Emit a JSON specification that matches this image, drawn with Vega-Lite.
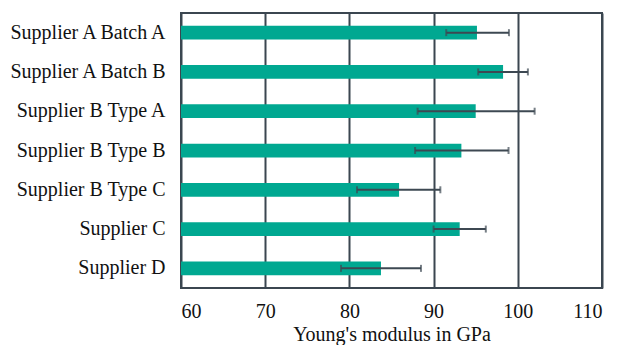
{
  "$schema": "https://vega.github.io/schema/vega-lite/v6.json",
  "width": 421,
  "height": 275,
  "autosize": {"type": "none"},
  "padding": {"left": 181, "top": 13, "right": 16, "bottom": 57},
  "background": "white",
  "config": {
    "font": "Liberation Serif",
    "view": {"stroke": "#3b4650", "strokeWidth": 2},
    "axis": {"labelFont": "Liberation Serif", "titleFont": "Liberation Serif", "labelColor": "#111", "titleColor": "#111"}
  },
  "data": {
    "values": [
      {"supplier": "Supplier A Batch A", "mean": 95.15, "low": 91.5, "high": 98.95},
      {"supplier": "Supplier A Batch B", "mean": 98.25, "low": 95.3, "high": 101.2},
      {"supplier": "Supplier B Type A", "mean": 95.0, "low": 88.1, "high": 102.0},
      {"supplier": "Supplier B Type B", "mean": 93.3, "low": 87.8, "high": 98.9},
      {"supplier": "Supplier B Type C", "mean": 85.9, "low": 80.9, "high": 90.8},
      {"supplier": "Supplier C", "mean": 93.1, "low": 90.0, "high": 96.2},
      {"supplier": "Supplier D", "mean": 83.75, "low": 79.0, "high": 88.5}
    ]
  },
  "encoding": {
    "y": {
      "field": "supplier", "type": "nominal", "sort": null,
      "scale": {"paddingInner": 0.65, "paddingOuter": 0.325},
      "axis": {"title": null, "ticks": false, "domain": false, "labelFontSize": 20, "labelPadding": 16, "grid": false}
    }
  },
  "layer": [
    {
      "mark": {"type": "bar", "color": "#00a891"},
      "encoding": {
        "x": {
          "field": "mean", "type": "quantitative",
          "scale": {"domain": [60, 110], "zero": false, "nice": false},
          "axis": {
            "title": "Young's modulus in GPa", "titleFontSize": 20, "titleFontWeight": "normal",
            "labelFontSize": 20, "labelPadding": 13, "titlePadding": 3,
            "values": [60, 70, 80, 90, 100, 110],
            "ticks": false, "domain": false,
            "grid": true, "gridColor": "#3b4650", "gridWidth": 2, "gridOpacity": 1
          }
        },
        "x2": {"datum": 60}
      }
    },
    {
      "mark": {"type": "rule", "color": "#3d4852", "strokeWidth": 2},
      "encoding": {
        "x": {"field": "low", "type": "quantitative"},
        "x2": {"field": "high"}
      }
    },
    {
      "mark": {"type": "tick", "color": "#3d4852", "thickness": 2, "size": 7, "orient": "vertical"},
      "encoding": {"x": {"field": "low", "type": "quantitative"}}
    },
    {
      "mark": {"type": "tick", "color": "#3d4852", "thickness": 2, "size": 7, "orient": "vertical"},
      "encoding": {"x": {"field": "high", "type": "quantitative"}}
    }
  ]
}
